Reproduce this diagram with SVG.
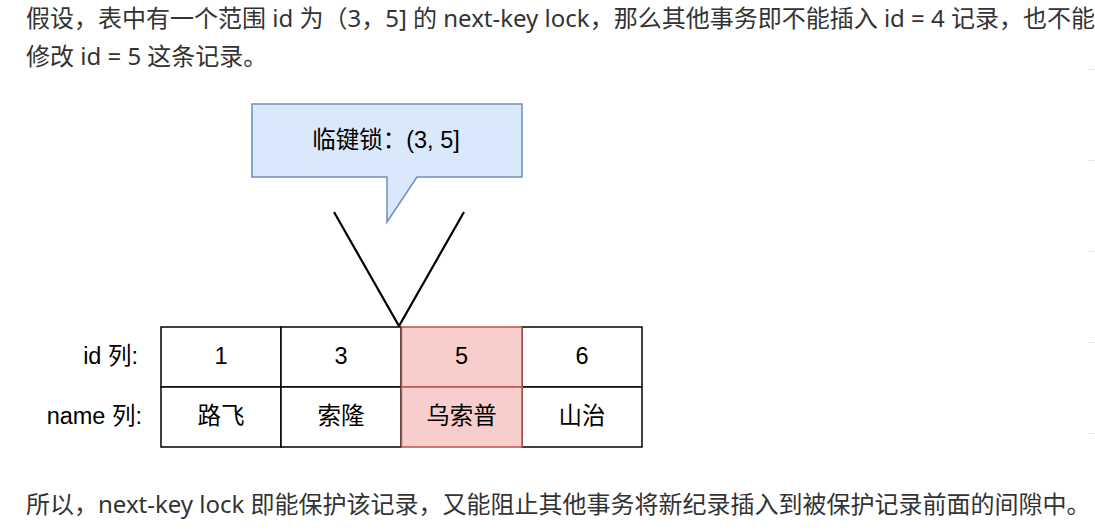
<svg xmlns="http://www.w3.org/2000/svg" width="1095" height="532" viewBox="0 0 1095 532">
<style>
.para{font-family:"Noto Sans","Noto Sans CJK SC",sans-serif;font-size:24px;fill:#333333}
.lbl{font-family:"Liberation Sans","Noto Sans CJK SC",sans-serif;font-size:23.5px;fill:#000000}
.mid{text-anchor:middle}
.end{text-anchor:end}
.cell{fill:#ffffff;stroke:#000000;stroke-width:1.5}
.hot{fill:#f8cecc;stroke:#b85450;stroke-width:1.5}
.tick{stroke:#e6e6e6;stroke-width:1}
</style>
<rect x="0" y="0" width="1095" height="532" fill="#ffffff"/>
<g id="text-top">
<text class="para" x="26" y="27">假设，表中有一个范围 id 为（3，5] 的 next-key lock，那么其他事务即不能插入 id = 4 记录，也不能</text>
<text class="para" x="26" y="65">修改 id = 5 这条记录。</text>
</g>
<g id="callout">
<path d="M252,104 H522 V177 H417 L387,222 V177 H252 Z" fill="#dae8fc" stroke="#6c8ebf" stroke-width="1.5"/>
<text class="lbl mid" x="386" y="148">临键锁：(3, 5]</text>
</g>
<g id="connectors">
<path d="M334,212 L399,326 L464,212" fill="none" stroke="#000000" stroke-width="2.2"/>
</g>
<g id="row-labels">
<text class="lbl end" x="138" y="364">id 列:</text>
<text class="lbl end" x="142" y="424">name 列:</text>
</g>
<g id="cell-id-1"><rect class="cell" x="161" y="327" width="120" height="60"/><text class="lbl mid" x="221" y="364">1</text></g>
<g id="cell-id-3"><rect class="cell" x="281" y="327" width="120" height="60"/><text class="lbl mid" x="341" y="364">3</text></g>
<g id="cell-id-6"><rect class="cell" x="522" y="327" width="120" height="60"/><text class="lbl mid" x="582" y="364">6</text></g>
<g id="cell-name-1"><rect class="cell" x="161" y="387" width="120" height="60"/><text class="lbl mid" x="221" y="424">路飞</text></g>
<g id="cell-name-3"><rect class="cell" x="281" y="387" width="120" height="60"/><text class="lbl mid" x="341" y="424">索隆</text></g>
<g id="cell-name-6"><rect class="cell" x="522" y="387" width="120" height="60"/><text class="lbl mid" x="582" y="424">山治</text></g>
<g id="cell-id-5"><rect class="hot" x="401.5" y="327" width="120.5" height="60"/><text class="lbl mid" x="461.5" y="364">5</text></g>
<g id="cell-name-5"><rect class="hot" x="401.5" y="387" width="120.5" height="60"/><text class="lbl mid" x="461.5" y="424">乌索普</text></g>
<g id="text-bottom">
<text class="para" x="26" y="513">所以，next-key lock 即能保护该记录，又能阻止其他事务将新纪录插入到被保护记录前面的间隙中。</text>
</g>
<g id="edge-ticks">
<line class="tick" x1="1088" y1="69.5" x2="1095" y2="69.5"/>
<line class="tick" x1="1088" y1="160.5" x2="1095" y2="160.5"/>
<line class="tick" x1="1088" y1="251.5" x2="1095" y2="251.5"/>
<line class="tick" x1="1088" y1="342.5" x2="1095" y2="342.5"/>
<line class="tick" x1="1088" y1="433.5" x2="1095" y2="433.5"/>
</g>
</svg>
